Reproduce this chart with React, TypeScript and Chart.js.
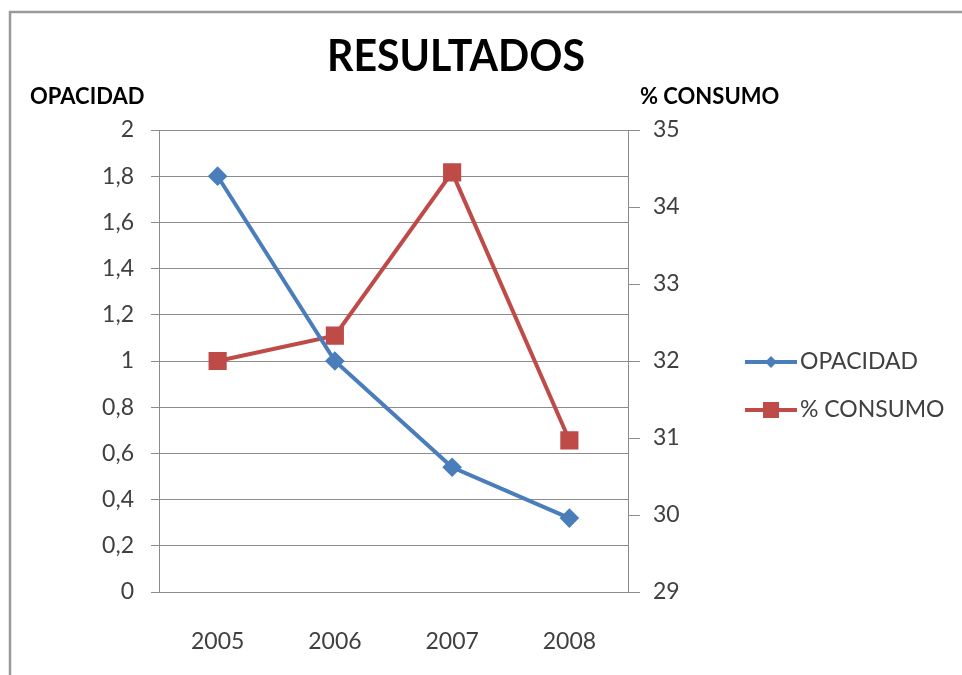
import React, { useEffect, useRef } from "react";
import { Chart, registerables } from "chart.js";

Chart.register(...registerables);

const categories = ["2005", "2006", "2007", "2008"];
const opacidad = [1.8, 1.0, 0.54, 0.32];
const consumo = [32.0, 32.33, 34.45, 30.97];
const seriesNames = ["OPACIDAD", "% CONSUMO"];
const titleText = "RESULTADOS";
const leftAxisTitle = "OPACIDAD";
const rightAxisTitle = "% CONSUMO";

const BLUE = "#4a7ebb";
const RED = "#be4b48";
const TEXT = "#404040";
const FONT = "Lato";

const extrasPlugin = {
  id: "extras",
  beforeDraw(chart: any) {
    const ctx = chart.ctx;
    ctx.save();
    ctx.fillStyle = "#ffffff";
    ctx.fillRect(0, 0, chart.width, chart.height);
    ctx.strokeStyle = "#9a9a9a";
    ctx.lineWidth = 2.5;
    ctx.beginPath();
    ctx.moveTo(10, chart.height);
    ctx.lineTo(10, 12);
    ctx.lineTo(chart.width, 12);
    ctx.stroke();
    ctx.restore();
  },
  afterDraw(chart: any) {
    const ctx = chart.ctx;
    ctx.save();
    ctx.fillStyle = "#000000";
    ctx.textAlign = "center";
    ctx.textBaseline = "middle";
    ctx.font = `bold 43px ${FONT}`;
    ctx.fillText(titleText, 456, 57, 258);

    ctx.fillStyle = "#000000";
    ctx.font = `bold 22px ${FONT}`;
    ctx.textAlign = "left";
    ctx.fillText(leftAxisTitle, 30, 97, 120);
    ctx.fillText(rightAxisTitle, 640, 97, 146);

    // legend
    const ys = [362, 410];
    chart.data.datasets.forEach((ds: any, i: number) => {
      const y = ys[i];
      ctx.strokeStyle = ds.borderColor;
      ctx.lineWidth = 4;
      ctx.beginPath();
      ctx.moveTo(745, y);
      ctx.lineTo(797, y);
      ctx.stroke();
      ctx.fillStyle = ds.pointBackgroundColor;
      if (ds.pointStyle === "rectRot") {
        const r = 6;
        ctx.beginPath();
        ctx.moveTo(771, y - r);
        ctx.lineTo(771 + r, y);
        ctx.lineTo(771, y + r);
        ctx.lineTo(771 - r, y);
        ctx.closePath();
        ctx.fill();
      } else {
        ctx.fillRect(771 - 8, y - 8, 16, 16);
      }
      ctx.fillStyle = TEXT;
      ctx.font = `23px ${FONT}`;
      ctx.textAlign = "left";
      ctx.textBaseline = "middle";
      ctx.fillText(ds.label, 800, y, i === 0 ? 118 : 148);
    });
    ctx.restore();
  },
};

export default function App() {
  const ref = useRef<HTMLCanvasElement | null>(null);
  useEffect(() => {
    if (!ref.current) return;
    const chart = new Chart(ref.current, {
      type: "line",
      data: {
        labels: categories,
        datasets: [
          {
            label: seriesNames[0],
            data: opacidad,
            yAxisID: "y",
            borderColor: BLUE,
            backgroundColor: BLUE,
            pointBackgroundColor: BLUE,
            pointBorderColor: BLUE,
            pointStyle: "rectRot",
            pointRadius: 7,
            borderWidth: 4,
            tension: 0,
          },
          {
            label: seriesNames[1],
            data: consumo,
            yAxisID: "y1",
            borderColor: RED,
            backgroundColor: RED,
            pointBackgroundColor: RED,
            pointBorderColor: RED,
            pointStyle: "rect",
            pointRadius: 10,
            borderWidth: 4,
            tension: 0,
          },
        ],
      },
      options: {
        responsive: false,
        animation: false,
        layout: { padding: { top: 130, left: 0, right: 0, bottom: 0 } },
        plugins: {
          legend: { display: false },
          title: { display: false },
          tooltip: { enabled: false },
        },
        scales: {
          x: {
            type: "category",
            offset: true,
            grid: { display: false },
            border: { display: true, color: "#8c8c8c", width: 1 },
            ticks: { color: TEXT, font: { family: FONT, size: 23 }, padding: 28 },
            afterFit: (s: any) => {
              s.height = 83;
            },
          },
          y: {
            position: "left",
            min: 0,
            max: 2,
            ticks: {
              stepSize: 0.2,
              color: TEXT,
              font: { family: FONT, size: 23 },
              padding: 17,
              callback: (v: any) => String(Math.round(Number(v) * 10) / 10).replace(".", ","),
            },
            grid: { color: "#8c8c8c", lineWidth: 1, tickLength: 8, drawTicks: true },
            border: { display: true, color: "#8c8c8c", width: 1 },
            afterFit: (s: any) => {
              s.width = 159;
            },
          },
          y1: {
            position: "right",
            min: 29,
            max: 35,
            ticks: {
              stepSize: 1,
              color: TEXT,
              font: { family: FONT, size: 23 },
              padding: 13,
            },
            grid: { drawOnChartArea: false, color: "#8c8c8c", tickLength: 12 },
            border: { display: true, color: "#8c8c8c", width: 1 },
            afterFit: (s: any) => {
              s.width = 334;
            },
          },
        },
      },
      plugins: [extrasPlugin],
    });
    return () => chart.destroy();
  }, []);
  return (
    <div style={{ position: "absolute", left: 0, top: 0, width: 962, height: 675, background: "#fff" }}>
      <canvas ref={ref} width={962} height={675} style={{ display: "block" }} />
    </div>
  );
}
